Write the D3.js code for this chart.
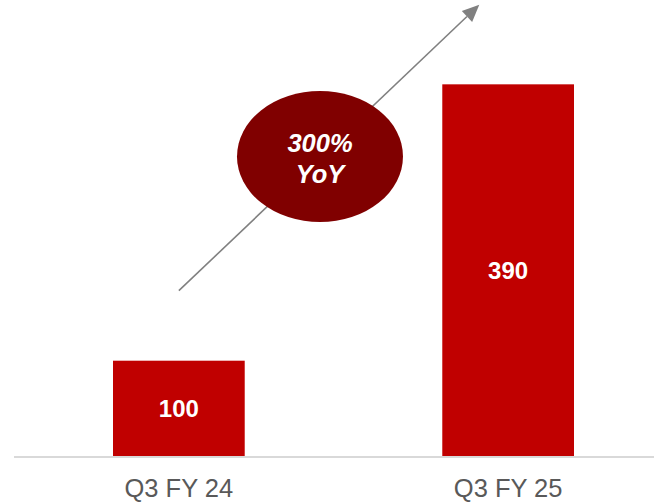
<!DOCTYPE html>
<html>
<head>
<meta charset="utf-8">
<script src="https://cdn.jsdelivr.net/npm/d3@7"></script>
<style>
  html, body { margin: 0; padding: 0; background: #fff; }
  svg { display: block; }
</style>
</head>
<body>
<svg id="chart" width="654" height="502"></svg>
<script>
const categories = ["Q3 FY 24", "Q3 FY 25"];
const values = [100, 390];
const growthLabel = ["300%", "YoY"];

const W = 654, H = 502;
const svg = d3.select("#chart");

const x = d3.scaleBand()
  .domain(categories)
  .range([113, 574])
  .paddingInner(0.6)
  .paddingOuter(0);

const y = d3.scaleLinear()
  .domain([0, 400])
  .range([456, 74.8]);

// baseline
svg.append("line")
  .attr("x1", 14).attr("x2", W)
  .attr("y1", y(0) + 1).attr("y2", y(0) + 1)
  .attr("stroke", "#d9d9d9")
  .attr("stroke-width", 2);

// bars
svg.selectAll("rect.bar")
  .data(values)
  .enter().append("rect")
  .attr("class", "bar")
  .attr("x", (d, i) => x(categories[i]))
  .attr("y", d => y(d))
  .attr("width", x.bandwidth())
  .attr("height", d => y(0) - y(d))
  .attr("fill", "#c00000");

// value labels
svg.selectAll("text.val")
  .data(values)
  .enter().append("text")
  .attr("class", "val")
  .attr("x", (d, i) => x(categories[i]) + x.bandwidth() / 2)
  .attr("y", d => (y(d) + y(0)) / 2 + 9)
  .attr("text-anchor", "middle")
  .attr("font-family", "Liberation Sans, Arial, sans-serif")
  .attr("font-weight", "bold")
  .attr("font-size", 24)
  .attr("fill", "#ffffff")
  .text(d => d);

// category labels
svg.selectAll("text.cat")
  .data(categories)
  .enter().append("text")
  .attr("class", "cat")
  .attr("x", d => x(d) + x.bandwidth() / 2)
  .attr("y", 497)
  .attr("text-anchor", "middle")
  .attr("font-family", "Liberation Sans, Arial, sans-serif")
  .attr("font-size", 25.5)
  .attr("fill", "#595959")
  .text(d => d);

// growth arrow
const x0 = x(categories[0]) + x.bandwidth() / 2, y0 = y(values[0]) - 70;
const x1 = x(categories[1]) + 37, y1 = y(400) - 70;
const ang = Math.atan2(y1 - y0, x1 - x0);
const headLen = 17, headHalf = 7.5;
const bx = x1 - headLen * Math.cos(ang), by = y1 - headLen * Math.sin(ang);
svg.append("line")
  .attr("x1", x0).attr("y1", y0)
  .attr("x2", bx).attr("y2", by)
  .attr("stroke", "#808080")
  .attr("stroke-width", 1.6);
const px = -Math.sin(ang), py = Math.cos(ang);
svg.append("polygon")
  .attr("points", [
    [x1, y1],
    [bx + px * headHalf, by + py * headHalf],
    [bx - px * headHalf, by - py * headHalf]
  ].map(p => p.join(",")).join(" "))
  .attr("fill", "#808080");

// growth bubble
const cx = 320, cy = 156.5;
svg.append("ellipse")
  .attr("cx", cx).attr("cy", cy)
  .attr("rx", 83).attr("ry", 65.5)
  .attr("fill", "#800000");
svg.selectAll("text.g")
  .data(growthLabel)
  .enter().append("text")
  .attr("class", "g")
  .attr("x", cx)
  .attr("y", (d, i) => 151.5 + i * 31)
  .attr("text-anchor", "middle")
  .attr("font-family", "Liberation Sans, Arial, sans-serif")
  .attr("font-weight", "bold")
  .attr("font-style", "italic")
  .attr("font-size", 25.5)
  .attr("fill", "#ffffff")
  .text(d => d);
</script>
</body>
</html>
